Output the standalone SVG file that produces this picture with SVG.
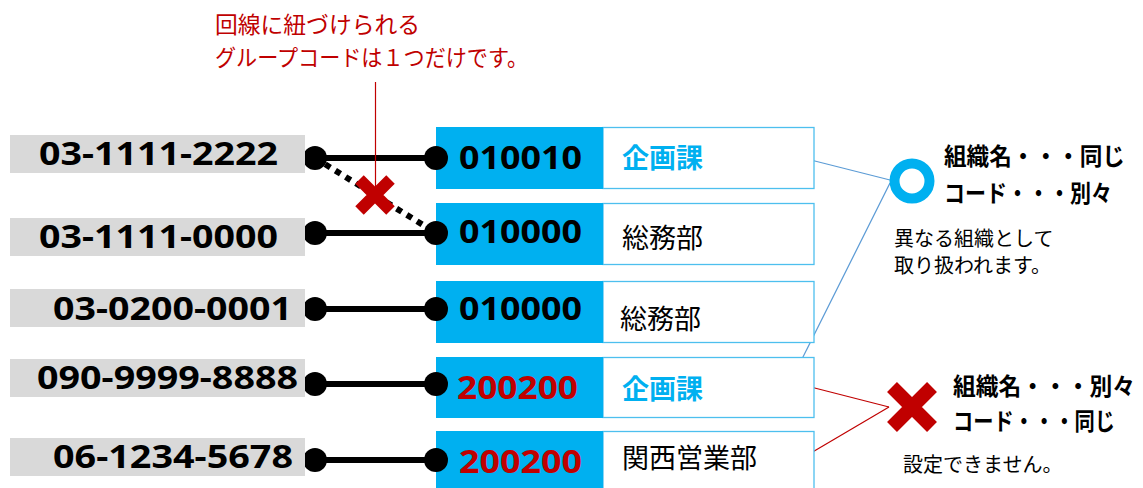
<svg xmlns="http://www.w3.org/2000/svg" width="1143" height="488" viewBox="0 0 1143 488">
<style>
.phbox{fill:#D9D9D9}
.ph{font-family:"Noto Sans","Noto Sans CJK JP",sans-serif;font-weight:bold;font-size:32px;fill:#000}
.code{fill:#00B0F0}
.namebox{fill:#fff;stroke:#4DBFEE;stroke-width:1.3}
.cd{font-family:"Noto Sans","Noto Sans CJK JP",sans-serif;font-weight:bold;font-size:33px;fill:#000}
.cdr{fill:#C00000}
.jp{font-family:"Noto Sans CJK JP",sans-serif;font-size:27px;fill:#000}
.jpb{font-family:"Noto Sans CJK JP",sans-serif;font-size:27px;font-weight:bold;fill:#00B0F0}
.hd{font-family:"Noto Sans CJK JP",sans-serif;font-size:24px;font-weight:bold;fill:#000}
.sm{font-family:"Noto Sans CJK JP",sans-serif;font-size:20px;fill:#000}
.note{font-family:"Noto Sans CJK JP",sans-serif;font-size:22.5px;fill:#C00000}
.wire{stroke:#000;stroke-width:6;fill:none}
.dot{fill:#000}
.xm{stroke:#C00000;fill:none;stroke-linecap:butt}
</style>

<g id="connectors">
  <line class="wire" x1="315" y1="158" x2="436" y2="158"/>
  <line class="wire" x1="315" y1="158" x2="436" y2="233" stroke-dasharray="6 6"/>
  <line class="wire" x1="315" y1="233" x2="436" y2="233"/>
  <line class="wire" x1="315" y1="309" x2="436" y2="309"/>
  <line class="wire" x1="315" y1="384" x2="436" y2="384"/>
  <line class="wire" x1="315" y1="460" x2="436" y2="460"/>
  <circle class="dot" cx="315" cy="158" r="12"/>
  <circle class="dot" cx="315" cy="233" r="12"/>
  <circle class="dot" cx="315" cy="309" r="12"/>
  <circle class="dot" cx="315" cy="384" r="12"/>
  <circle class="dot" cx="315" cy="460" r="12"/>
  <line stroke="#C00000" stroke-width="1.2" x1="375.5" y1="82" x2="375.5" y2="190"/>
  <line stroke="#5B9BD5" stroke-width="1.2" x1="799" y1="157" x2="890" y2="180"/>
  <line stroke="#5B9BD5" stroke-width="1.2" x1="795" y1="373" x2="890" y2="183"/>
  <line stroke="#C00000" stroke-width="1.2" x1="799" y1="384" x2="889" y2="407"/>
  <line stroke="#C00000" stroke-width="1.2" x1="799" y1="460" x2="889" y2="407"/>
</g>

<g id="note-top">
  <text class="note" x="215" y="33" textLength="205" lengthAdjust="spacingAndGlyphs">回線に紐づけられる</text>
  <text class="note" x="215" y="66" textLength="313" lengthAdjust="spacingAndGlyphs">グループコードは１つだけです。</text>
  <path class="xm" stroke-width="12" d="M359.5,179.5 L390.5,210.5 M390.5,179.5 L359.5,210.5"/>
</g>

<g id="phone1"><rect class="phbox" x="10" y="135" width="295" height="38"/><text class="ph" x="39" y="165" textLength="239" lengthAdjust="spacingAndGlyphs">03-1111-2222</text></g>
<g id="phone2"><rect class="phbox" x="10" y="218" width="295" height="38"/><text class="ph" x="39" y="248" textLength="239" lengthAdjust="spacingAndGlyphs">03-1111-0000</text></g>
<g id="phone3"><rect class="phbox" x="10" y="289" width="295" height="38"/><text class="ph" x="53" y="320" textLength="239" lengthAdjust="spacingAndGlyphs">03-0200-0001</text></g>
<g id="phone4"><rect class="phbox" x="10" y="359" width="295" height="38"/><text class="ph" x="37" y="389" textLength="261" lengthAdjust="spacingAndGlyphs">090-9999-8888</text></g>
<g id="phone5"><rect class="phbox" x="10" y="438" width="295" height="38"/><text class="ph" x="53" y="468" textLength="240" lengthAdjust="spacingAndGlyphs">06-1234-5678</text></g>

<g id="org1"><rect class="namebox" x="603" y="127.5" width="211" height="61"/><rect class="code" x="436" y="127" width="167" height="62"/><circle class="dot" cx="436" cy="158" r="12"/><text class="cd" x="459" y="169" textLength="123" lengthAdjust="spacingAndGlyphs">010010</text><text class="jpb" x="622" y="168">企画課</text></g>
<g id="org2"><rect class="namebox" x="603" y="203.5" width="211" height="61"/><rect class="code" x="436" y="203" width="167" height="62"/><circle class="dot" cx="436" cy="233" r="12"/><text class="cd" x="459" y="243" textLength="123" lengthAdjust="spacingAndGlyphs">010000</text><text class="jp" x="622" y="248">総務部</text></g>
<g id="org3"><rect class="namebox" x="603" y="281.5" width="211" height="61"/><rect class="code" x="436" y="281" width="167" height="62"/><circle class="dot" cx="436" cy="309" r="12"/><text class="cd" x="459" y="320" textLength="123" lengthAdjust="spacingAndGlyphs">010000</text><text class="jp" x="620" y="329">総務部</text></g>
<g id="org4"><rect class="namebox" x="603" y="357.5" width="211" height="60"/><rect class="code" x="436" y="357" width="167" height="61"/><circle class="dot" cx="436" cy="384" r="12"/><text class="cd cdr" x="457" y="399" textLength="121" lengthAdjust="spacingAndGlyphs">200200</text><text class="jpb" x="622" y="399">企画課</text></g>
<g id="org5"><rect class="namebox" x="603" y="431.5" width="211" height="60"/><rect class="code" x="436" y="431" width="167" height="60"/><circle class="dot" cx="436" cy="460" r="12"/><text class="cd cdr" x="459" y="473" textLength="123" lengthAdjust="spacingAndGlyphs">200200</text><text class="jp" x="622" y="468">関西営業部</text></g>

<g id="ok-note">
  <circle cx="912" cy="181" r="17.5" fill="none" stroke="#00B0F0" stroke-width="10"/>
  <text class="hd" x="944" y="165" textLength="181" lengthAdjust="spacingAndGlyphs">組織名・・・同じ</text>
  <text class="hd" x="944" y="202" textLength="168" lengthAdjust="spacingAndGlyphs">コード・・・別々</text>
  <text class="sm" x="894" y="246">異なる組織として</text>
  <text class="sm" x="894" y="273">取り扱われます。</text>
</g>

<g id="ng-note">
  <path class="xm" stroke-width="14" d="M892,387 L932,427 M932,387 L892,427"/>
  <text class="hd" x="953" y="395" font-size="23.5" textLength="182" lengthAdjust="spacingAndGlyphs">組織名・・・別々</text>
  <text class="hd" x="953" y="430" font-size="23.5" textLength="162" lengthAdjust="spacingAndGlyphs">コード・・・同じ</text>
  <text class="sm" x="903" y="472">設定できません。</text>
</g>
</svg>
